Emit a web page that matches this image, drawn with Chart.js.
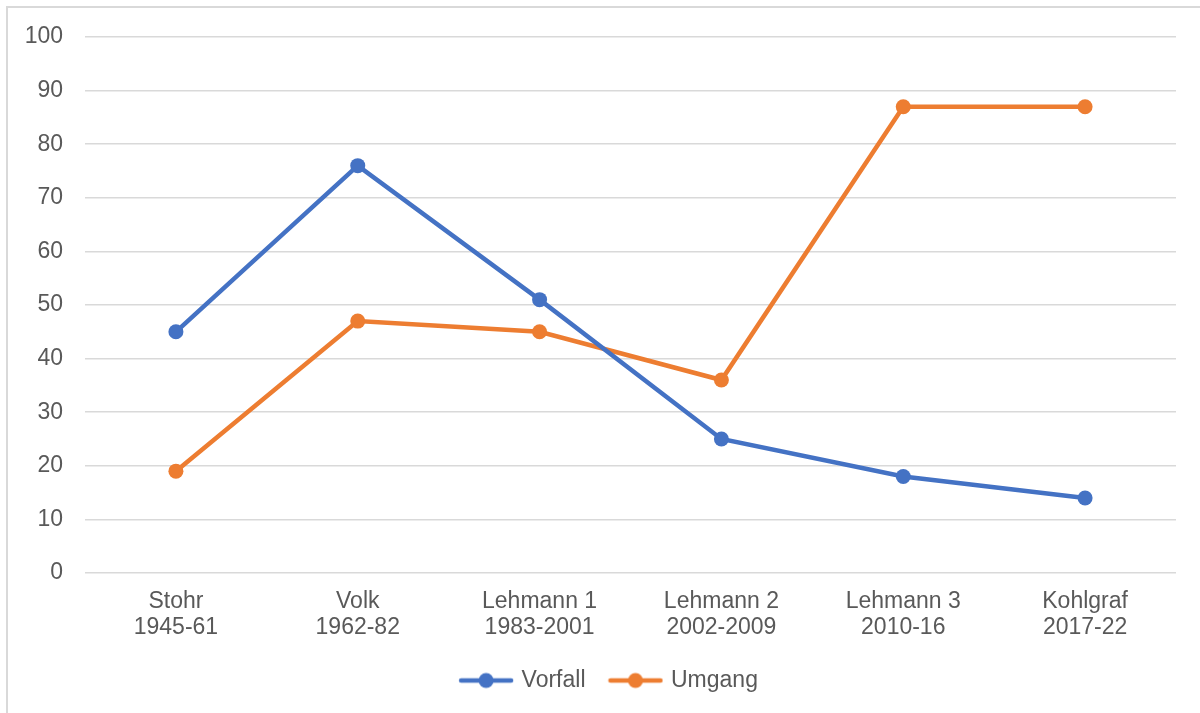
<!DOCTYPE html>
<html>
<head>
<meta charset="utf-8">
<script src="https://cdn.jsdelivr.net/npm/chart.js@4"></script>
<style>
  html, body { margin: 0; padding: 0; background: #fff; }
  #wrap { position: relative; width: 1200px; height: 713px; }
</style>
</head>
<body>
<div id="wrap"><canvas id="chart" width="1200" height="713"></canvas></div>
<script>
const categories = [
  ['Stohr', '1945-61'],
  ['Volk', '1962-82'],
  ['Lehmann 1', '1983-2001'],
  ['Lehmann 2', '2002-2009'],
  ['Lehmann 3', '2010-16'],
  ['Kohlgraf', '2017-22'],
];
const vorfall = [45, 76, 51, 25, 18, 14];
const umgang = [19, 47, 45, 36, 87, 87];
const yMin = 0;
const yMax = 100;
const yStep = 10;

const BLUE = '#4472C4';
const ORANGE = '#ED7D31';
const TEXT = '#595959';
const GRID = '#d9d9d9';

Chart.defaults.font.family = '"Liberation Sans", Arial, sans-serif';
Chart.defaults.font.size = 23;
Chart.defaults.color = TEXT;

// legend marker: a line with a dot in the middle
const legendMarker = (color) => {
  const c = document.createElement('canvas');
  c.width = 56;
  c.height = 18;
  const g = c.getContext('2d');
  g.strokeStyle = color;
  g.lineWidth = 4.5;
  g.lineCap = 'round';
  g.beginPath();
  g.moveTo(3, 9);
  g.lineTo(53, 9);
  g.stroke();
  g.fillStyle = color;
  g.beginPath();
  g.arc(28, 9, 7.5, 0, Math.PI * 2);
  g.fill();
  return c;
};

// light grey frame round the chart, as in the office export
const framePlugin = {
  id: 'frame',
  beforeDraw(chart) {
    const ctx = chart.ctx;
    ctx.save();
    ctx.strokeStyle = GRID;
    ctx.lineWidth = 2;
    ctx.strokeRect(7, 7, chart.width + 20, chart.height + 20);
    ctx.restore();
  },
};

const series = [
  { label: 'Vorfall', data: vorfall, color: BLUE },
  { label: 'Umgang', data: umgang, color: ORANGE },
];

new Chart(document.getElementById('chart'), {
  type: 'line',
  data: {
    labels: categories,
    datasets: series.map((s) => ({
      label: s.label,
      data: s.data,
      borderColor: s.color,
      backgroundColor: s.color,
      pointBackgroundColor: s.color,
      pointBorderColor: s.color,
      borderWidth: 4.5,
      pointRadius: 7.5,
      pointBorderWidth: 0,
      tension: 0,
      fill: false,
      yAxisID: 'y',
    })),
  },
  options: {
    responsive: false,
    animation: false,
    layout: { padding: { top: 37, right: 0, bottom: 11, left: 20 } },
    scales: {
      x: {
        offset: true,
        grid: { display: false, drawTicks: false },
        border: { display: false },
        ticks: { padding: 15, maxRotation: 0, autoSkip: false, font: { size: 23, lineHeight: 1.15 } },
        afterFit: (scale) => { scale.height = 70; },
      },
      y: {
        min: yMin,
        max: yMax,
        grid: { color: GRID, lineWidth: 1.5, drawTicks: false },
        border: { display: false },
        ticks: { stepSize: yStep, padding: 22 },
        afterFit: (scale) => { scale.width = 65; },
      },
      // empty spacer on the right so the plot ends where the original does
      spacer: {
        position: 'right',
        min: yMin,
        max: yMax,
        grid: { display: false, drawTicks: false },
        border: { display: false },
        ticks: { display: false },
        afterFit: (scale) => { scale.width = 24; },
      },
    },
    plugins: {
      legend: {
        position: 'bottom',
        labels: {
          usePointStyle: true,
          pointStyleWidth: 48,
          padding: 26,
          generateLabels: (chart) => series.map((s, i) => ({
            text: s.label,
            pointStyle: legendMarker(s.color),
            fillStyle: s.color,
            strokeStyle: s.color,
            lineWidth: 0,
            hidden: !chart.isDatasetVisible(i),
            datasetIndex: i,
            fontColor: TEXT,
          })),
        },
      },
      tooltip: { enabled: false },
    },
  },
  plugins: [framePlugin],
});
</script>
</body>
</html>
